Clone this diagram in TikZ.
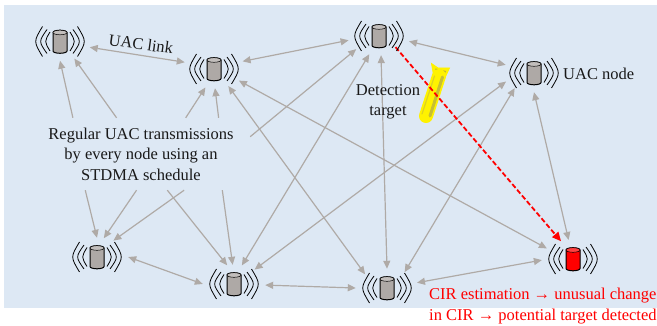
\documentclass[tikz,border=0pt]{standalone}
\usepackage{fontspec}
\setmainfont{Liberation Serif}
\usetikzlibrary{arrows.meta,shapes.geometric}
\definecolor{bgblue}{HTML}{DDE8F4}
\definecolor{linkgray}{HTML}{AFAAA6}
\definecolor{bodygray}{HTML}{AEA9A6}
\tikzset{
  x=1pt,y=-1pt,
  sensor/.style={ellipse,draw=none,inner sep=0pt,minimum width=62pt,minimum height=38pt},
  link/.style={draw=linkgray,line width=1.2pt,{Triangle[length=8pt,width=7pt]}-{Triangle[length=8pt,width=7pt]}},
  feed/.style={draw=linkgray,line width=1.2pt,-{Triangle[length=8pt,width=7pt]}},
  alarm/.style={draw=red,line width=1.8pt,dash pattern=on 5pt off 2.5pt,-{Triangle[length=9pt,width=8pt]},shorten <=-5pt},
  label/.style={font=\fontsize{16.5pt}{20.5pt}\selectfont,text=black!90,inner sep=0pt},
  pics/unit/.style={code={
    \foreach \s in {-1,1}{
      \draw[line width=.8pt] (\s*10,-9.5) .. controls (\s*15.7,0) .. (\s*10,9.5);
      \draw[line width=.8pt] (\s*13,-12) .. controls (\s*21.4,0) .. (\s*13,12);
      \draw[line width=.8pt] (\s*17.5,-15) .. controls (\s*26.5,0) .. (\s*17.5,15);
    }
    \draw[line width=1pt,fill=#1] (-7,-9) -- (-7,9.5) arc[x radius=7,y radius=2.3,start angle=180,end angle=0] -- (7,-9) arc[x radius=7,y radius=2.3,start angle=0,end angle=-180] -- cycle;
    \draw[line width=.5pt,fill=#1!75!white] (0,-9) ellipse[x radius=7,y radius=2.3];
  }}
}
\begin{document}
\begin{tikzpicture}
\useasboundingbox (0,0) rectangle (657,326);
\fill[bgblue] (4,5) rectangle (657,308);

\node[sensor] (n1) at (60,41.5) {};
\node[sensor] (n2) at (214,69) {};
\node[sensor] (n3) at (379,36) {};
\node[sensor] (n4) at (534,73) {};
\node[sensor] (n5) at (97,257) {};
\node[sensor] (n6) at (234,284) {};
\node[sensor] (n7) at (387,288) {};
\node[sensor] (n8) at (573,259) {};

\node[label,align=center,minimum width=218pt,minimum height=72pt] (tx) at (141,154)
  {Regular UAC transmissions\\by every node using an\\STDMA schedule};

% target under the red line
\fill[yellow,draw=yellow,line width=.8pt] (431.5,63.5) -- (438,68) -- (449.5,68) -- (444,80) -- (434,78) -- cycle;
\fill[yellow!70!black] (435.5,68.5) -- (446,71) -- (443,78) -- (435,75) -- cycle;
\draw[line width=14pt,yellow,line cap=round] (439,76) -- (426,116);
\draw[line width=3pt,yellow!75!black,line cap=round] (442.5,77) -- (430,116);
\draw[line width=1.2pt,yellow!85!black,line cap=round] (434.5,76) -- (422,114);

\draw[link] (n1.-11.5) -- (n2.167);
\draw[link] (n2.15) -- (n3.188);
\draw[link] (n2.-50) -- (n7.148);
\draw[link] (n2.-25) -- (n8.158);
\draw[link] (n3.-10) -- (n4.164);
\draw[link] (n3.242) -- (n6.67);
\draw[link] (n3.-84) -- (n7.90);
\draw[link] (n4.197) -- (n6.35);
\draw[link] (n4.218) -- (n7.42);
\draw[link] (n4.270) -- (n8.103);
\draw[link] (n5.0) -- (n6.180);
\draw[link] (n6.-2) -- (n7.180);
\draw[link] (n7.10) -- (n8.182);

\draw[feed] (tx.152.1) -- (n1.-90);
\draw[feed] (tx.124.8) -- (n1.-50);
\draw[feed] (tx.39.9) -- (n2.-115);
\draw[feed] (tx.25.1) -- (n2.-87);
\draw[feed] (tx.9.9) -- (n3.210);
\draw[feed] (tx.213.7) -- (n5.90);
\draw[feed] (tx.263.7) -- (n5.70);
\draw[feed] (tx.320.7) -- (n5.45);
\draw[feed] (tx.306.9) -- (n6.110);
\draw[feed] (tx.336.8) -- (n6.94);

\draw[alarm] (n3.-37) -- (n8.124);

\pic at (n1) {unit=bodygray};
\pic at (n2) {unit=bodygray};
\pic at (n3) {unit=bodygray};
\pic at (n4) {unit=bodygray};
\pic at (n5) {unit=bodygray};
\pic at (n6) {unit=bodygray};
\pic at (n7) {unit=bodygray};
\pic at (n8) {unit=red};

\node[label,rotate=-8] (ll) at (141,44) {UAC link};
\node[label,anchor=west] (nl) at (563,74) {UAC node};
\node[label,align=center] (dt) at (388,102) {Detection\\target};
\node[label,text=red,anchor=west,align=left] (cir) at (429,306)
  {CIR estimation → unusual change\\in CIR → potential target detected};
\end{tikzpicture}
\end{document}
